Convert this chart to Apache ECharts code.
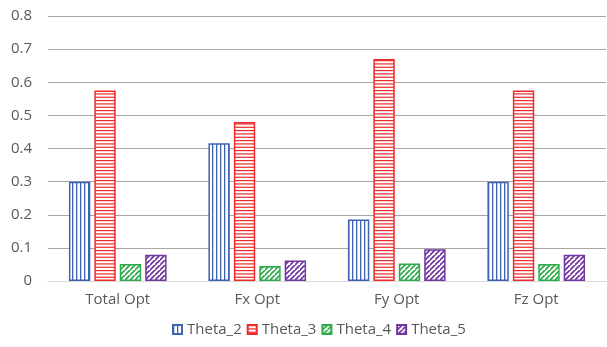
<!DOCTYPE html>
<html>
<head>
<meta charset="utf-8">
<script src="https://cdn.jsdelivr.net/npm/echarts@6/dist/echarts.min.js"></script>
<style>
  html, body { margin: 0; padding: 0; background: #fff; }
  #chart { width: 607px; height: 347px; }
</style>
</head>
<body>
<div id="chart"></div>
<script>
// Category labels and per-series values
const categories = ['Total Opt', 'Fx Opt', 'Fy Opt', 'Fz Opt'];
const theta2 = [0.300, 0.416, 0.186, 0.300];
const theta3 = [0.575, 0.480, 0.670, 0.575];
const theta4 = [0.051, 0.045, 0.053, 0.051];
const theta5 = [0.079, 0.062, 0.096, 0.079];
const seriesNames = ['Theta_2', 'Theta_3', 'Theta_4', 'Theta_5'];
const yTicks = { min: 0, max: 0.8, step: 0.1 };

// Hatched fills drawn on small repeating canvas tiles
function makeTile(w, h, draw) {
  const c = document.createElement('canvas');
  c.width = w; c.height = h;
  const ctx = c.getContext('2d');
  ctx.fillStyle = '#ffffff';
  ctx.fillRect(0, 0, w, h);
  draw(ctx, w, h);
  return c;
}
function verticalLines(color) {
  return makeTile(4, 4, (ctx, w, h) => {
    ctx.fillStyle = color;
    ctx.fillRect(0, 0, 1.3, h);
  });
}
function horizontalLines(color) {
  return makeTile(4, 10, (ctx, w, h) => {
    ctx.fillStyle = color;
    ctx.fillRect(0, 0, w, 1.2);
    ctx.fillRect(0, 3.33, w, 1.2);
    ctx.fillRect(0, 6.67, w, 1.2);
  });
}
function diagonalLines(color) {
  return makeTile(5, 5, (ctx, w, h) => {
    ctx.strokeStyle = color;
    ctx.lineWidth = 1.7;
    ctx.beginPath();
    ctx.moveTo(-1, h + 1); ctx.lineTo(w + 1, -1);
    ctx.moveTo(-1 - w, h + 1); ctx.lineTo(1, -1);
    ctx.moveTo(w - 1, 2 * h + 1); ctx.lineTo(2 * w + 1, h - 1);
    ctx.stroke();
  });
}

const colors = ['#3f63b3', '#ef2a2a', '#2eaa4a', '#7136a0'];
const fills = [
  verticalLines(colors[0]),
  horizontalLines(colors[1]),
  diagonalLines(colors[2]),
  diagonalLines(colors[3])
];
const values = [theta2, theta3, theta4, theta5];

const chart = echarts.init(document.getElementById('chart'), null, { renderer: 'canvas' });

const series = seriesNames.map((name, i) => ({
  name: name,
  type: 'bar',
  data: values[i],
  barGap: '19%',
  barCategoryGap: '30%',
  itemStyle: {
    color: { image: fills[i], repeat: 'repeat' },
    borderColor: colors[i],
    borderWidth: 1.5
  },
  emphasis: { disabled: true }
}));

chart.setOption({
  animation: false,
  backgroundColor: '#ffffff',
  textStyle: { fontFamily: '"Open Sans", Lato, sans-serif' },
  grid: { left: 48, right: 1, top: 16, bottom: 66, containLabel: false },
  xAxis: {
    type: 'category',
    data: categories,
    axisLine: { lineStyle: { color: '#d9d9d9', width: 1 } },
    axisTick: { show: false },
    axisLabel: { color: '#595959', fontSize: 15, margin: 11 }
  },
  yAxis: {
    type: 'value',
    min: yTicks.min,
    max: yTicks.max,
    interval: yTicks.step,
    axisLine: { show: false },
    axisTick: { show: false },
    splitLine: { lineStyle: { color: '#a6a6a6', width: 1 } },
    axisLabel: { color: '#595959', fontSize: 15, margin: 16 }
  },
  legend: {
    data: seriesNames,
    top: 317,
    left: 167,
    itemWidth: 9,
    itemHeight: 9,
    itemGap: 5,
    icon: 'rect',
    textStyle: { color: '#595959', fontSize: 15 }
  },
  series: series
});
</script>
</body>
</html>
